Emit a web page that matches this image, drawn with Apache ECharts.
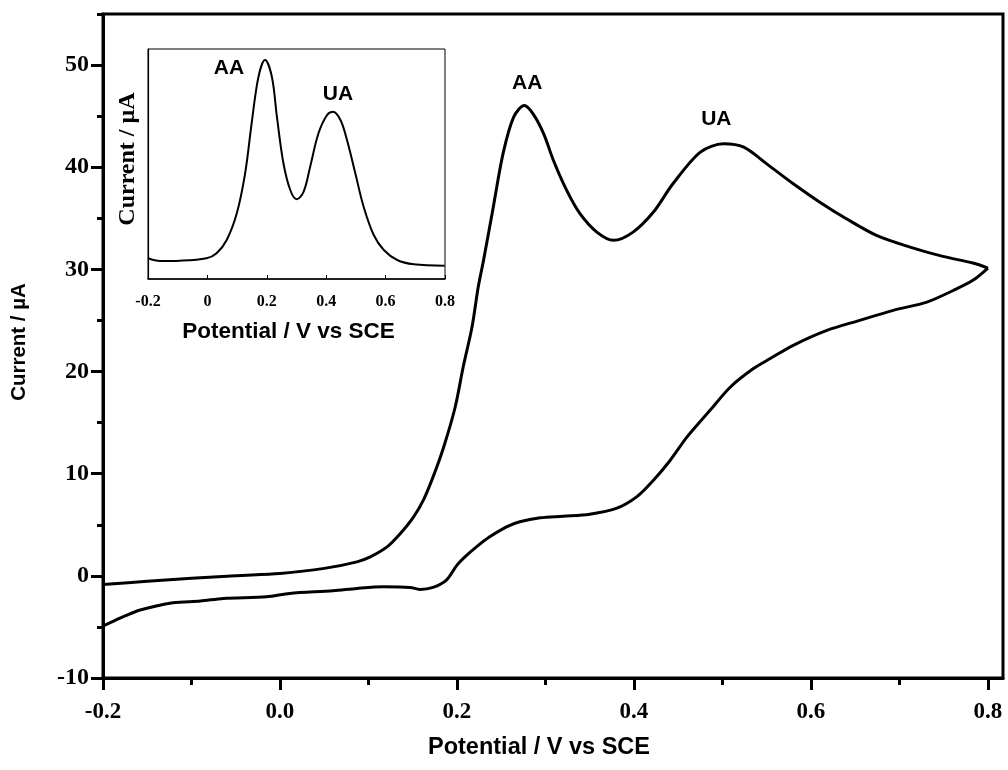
<!DOCTYPE html>
<html>
<head>
<meta charset="utf-8">
<script src="https://cdn.jsdelivr.net/npm/echarts@6/dist/echarts.min.js"></script>
<style>
  html, body { margin: 0; padding: 0; background: #fff; }
  #chart { width: 1008px; height: 770px; }
</style>
</head>
<body>
<div id="chart"></div>
<script>
// Cyclic voltammogram: anodic (forward) scan, potentials in V vs SCE, currents in µA
const fwdPotential = [-0.2, -0.15, -0.1, -0.05, 0.0, 0.05, 0.087, 0.102, 0.121, 0.136, 0.151, 0.162,
  0.173, 0.185, 0.198, 0.207, 0.217, 0.224, 0.230, 0.241, 0.252, 0.264, 0.276, 0.286, 0.298, 0.309,
  0.324, 0.339, 0.358, 0.377, 0.399, 0.422, 0.444, 0.475, 0.501, 0.524, 0.550, 0.580, 0.610, 0.640,
  0.674, 0.712, 0.749, 0.783, 0.800];
const fwdCurrent = [-0.84, -0.54, -0.24, 0.02, 0.24, 0.73, 1.37, 1.86, 2.84, 4.15, 5.78, 7.41,
  9.69, 12.62, 16.53, 20.45, 24.36, 28.27, 30.88, 36.09, 41.31, 44.9, 46.04, 45.23, 43.27, 40.66,
  37.73, 35.45, 33.65, 32.84, 33.65, 35.61, 38.38, 41.48, 42.29, 41.96, 40.33, 38.38, 36.58, 34.96,
  33.33, 32.18, 31.27, 30.62, 30.13];

// Reverse (cathodic) scan back to the starting potential
const revPotential = [0.800, 0.783, 0.761, 0.731, 0.693, 0.655, 0.618, 0.580, 0.554, 0.535, 0.509,
  0.486, 0.460, 0.441, 0.422, 0.403, 0.380, 0.350, 0.320, 0.294, 0.271, 0.256, 0.237, 0.222, 0.209,
  0.200, 0.188, 0.173, 0.158, 0.147, 0.117, 0.087, 0.060, 0.011, -0.015, -0.064, -0.090, -0.121,
  -0.158, -0.177, -0.198, -0.2];
const revCurrent = [30.13, 28.93, 27.95, 26.80, 25.99, 25.01, 24.03, 22.57, 21.27, 20.29, 18.49,
  16.21, 13.60, 11.32, 9.36, 7.73, 6.60, 6.04, 5.84, 5.68, 5.29, 4.80, 3.82, 2.84, 1.86,
  1.05, -0.42, -1.13, -1.33, -1.13, -1.07, -1.23, -1.46, -1.72, -2.05, -2.21, -2.47, -2.64,
  -3.35, -4.0, -4.82, -4.9];

// Differential pulse voltammogram (inset), current in arbitrary units
const dpvPotential = [-0.2, -0.16, -0.093, -0.003, 0.031, 0.065, 0.099, 0.127, 0.149, 0.172, 0.194,
  0.217, 0.234, 0.256, 0.279, 0.301, 0.324, 0.346, 0.374, 0.403, 0.423, 0.448, 0.470, 0.498, 0.526,
  0.560, 0.594, 0.639, 0.695, 0.799];
const dpvCurrent = [2.07, 1.8, 1.83, 2.07, 2.57, 3.9, 6.57, 10.57, 15.57, 20.23, 21.9,
  20.23, 16.23, 11.57, 8.9, 7.97, 8.73, 11.23, 14.57, 16.4, 16.73, 15.9, 13.9, 10.57, 7.23,
  4.4, 2.9, 1.9, 1.47, 1.33];

// Tick positions
const xMajorTicks = [-0.2, 0.0, 0.2, 0.4, 0.6, 0.8];
const xMinorTicks = [-0.1, 0.1, 0.3, 0.5, 0.7];
const yMajorTicks = [-10, 0, 10, 20, 30, 40, 50];
const yMinorTicks = [-5, 5, 15, 25, 35, 45, 55];
const insetTicks = [-0.2, 0, 0.2, 0.4, 0.6, 0.8];

const SERIF = '"Liberation Serif", "Times New Roman", serif';
const SANS = '"Liberation Sans", Arial, sans-serif';

const zip = (xs, ys) => xs.map((x, i) => [x, ys[i]]);

// Peak positions used for the AA / UA annotations
const peakIndex = (xs, ys, lo, hi) => {
  let best = -1;
  xs.forEach((x, i) => { if (x >= lo && x <= hi && (best < 0 || ys[i] > ys[best])) best = i; });
  return best;
};
const cvAA = peakIndex(fwdPotential, fwdCurrent, 0.1, 0.35);
const cvUA = peakIndex(fwdPotential, fwdCurrent, 0.4, 0.7);
const dpvAA = peakIndex(dpvPotential, dpvCurrent, 0.1, 0.3);
const dpvUA = peakIndex(dpvPotential, dpvCurrent, 0.35, 0.6);

const peakLabel = { show: true, position: 'inside', fontFamily: SANS, fontWeight: 'bold', fontSize: 21, color: '#000' };

const chart = echarts.init(document.getElementById('chart'), null, { renderer: 'canvas' });
chart.setOption({
  animation: false,
  backgroundColor: '#fff',
  grid: [
    { left: 103, top: 14, right: 5, bottom: 92, show: true, borderColor: '#000', borderWidth: 3, backgroundColor: '#fff' },
    { left: 148, top: 49, width: 297, height: 230, show: true, borderColor: '#000', borderWidth: 1, backgroundColor: '#fff' }
  ],
  xAxis: [
    {
      type: 'value', gridIndex: 0, position: 'bottom', min: -0.2, max: 0.817,
      axisLine: { show: true, onZero: false, lineStyle: { color: '#000', width: 3 } },
      axisTick: { show: true, customValues: xMajorTicks, length: 12, lineStyle: { color: '#000', width: 3 } },
      axisLabel: { customValues: xMajorTicks, formatter: v => v.toFixed(1), fontFamily: SERIF, fontWeight: 'bold', fontSize: 23, color: '#000', margin: 23 },
      splitLine: { show: false },
      name: 'Potential / V vs SCE', nameLocation: 'middle', nameGap: 58,
      nameTextStyle: { fontFamily: SANS, fontWeight: 'bold', fontSize: 23.5, color: '#000', padding: [0, 28, 0, 0] }
    },
    {
      type: 'value', gridIndex: 0, position: 'bottom', min: -0.2, max: 0.817,
      axisLine: { show: false, onZero: false },
      axisTick: { show: true, customValues: xMinorTicks, length: 7, lineStyle: { color: '#000', width: 3 } },
      axisLabel: { show: false },
      splitLine: { show: false }
    },
    {
      type: 'value', gridIndex: 1, position: 'bottom', min: -0.2, max: 0.8, interval: 0.2,
      axisLine: { show: true, onZero: false, lineStyle: { color: '#000', width: 1.5 } },
      axisTick: { show: true, inside: true, customValues: insetTicks, length: 4, lineStyle: { color: '#000', width: 1 } },
      axisLabel: { customValues: insetTicks, formatter: v => Math.abs(v) < 1e-9 ? '0' : v.toFixed(1), fontFamily: SERIF, fontWeight: 'bold', fontSize: 16, color: '#000', margin: 15 },
      splitLine: { show: false },
      name: 'Potential / V vs SCE', nameLocation: 'middle', nameGap: 41,
      nameTextStyle: { fontFamily: SANS, fontWeight: 'bold', fontSize: 22.5, color: '#000', padding: [0, 16, 0, 0] }
    }
  ],
  yAxis: [
    {
      type: 'value', gridIndex: 0, min: -10, max: 55, position: 'left',
      axisLine: { show: true, onZero: false, lineStyle: { color: '#000', width: 3 } },
      axisTick: { show: true, customValues: yMajorTicks, length: 12, lineStyle: { color: '#000', width: 3 } },
      axisLabel: { customValues: yMajorTicks, formatter: v => String(v), fontFamily: SERIF, fontWeight: 'bold', fontSize: 24, color: '#000', margin: 14 },
      splitLine: { show: false },
      name: 'Current / µA', nameLocation: 'middle', nameGap: 73, nameRotate: 90,
      nameTextStyle: { fontFamily: SANS, fontWeight: 'bold', fontSize: 20.5, color: '#000', padding: [0, 0, 0, 8] }
    },
    {
      type: 'value', gridIndex: 0, min: -10, max: 55, position: 'left',
      axisLine: { show: false, onZero: false },
      axisTick: { show: true, customValues: yMinorTicks, length: 6, lineStyle: { color: '#000', width: 3 } },
      axisLabel: { show: false },
      splitLine: { show: false }
    },
    {
      type: 'value', gridIndex: 1, min: 0, max: 23, position: 'left',
      axisLine: { show: true, onZero: false, lineStyle: { color: '#000', width: 1.2 } },
      axisTick: { show: false },
      axisLabel: { show: false },
      splitLine: { show: false },
      name: 'Current / µA', nameLocation: 'middle', nameGap: 8, nameRotate: 90,
      nameTextStyle: { fontFamily: SERIF, fontWeight: 'bold', fontSize: 24, color: '#000', padding: [0, 0, 0, 10] }
    }
  ],
  series: [
    {
      name: 'forward', type: 'line', xAxisIndex: 0, yAxisIndex: 0,
      data: zip(fwdPotential, fwdCurrent), symbol: 'none', smooth: 0.3,
      lineStyle: { color: '#000', width: 3 },
      markPoint: {
        symbol: 'circle', symbolSize: 0, silent: true,
        label: peakLabel,
        data: [
          { coord: [fwdPotential[cvAA], fwdCurrent[cvAA]], label: { formatter: 'AA', offset: [3, -22] } },
          { coord: [fwdPotential[cvUA], fwdCurrent[cvUA]], label: { formatter: 'UA', offset: [-7, -25] } }
        ]
      }
    },
    {
      name: 'reverse', type: 'line', xAxisIndex: 0, yAxisIndex: 0,
      data: zip(revPotential, revCurrent), symbol: 'none', smooth: 0.3,
      lineStyle: { color: '#000', width: 3 }
    },
    {
      name: 'dpv', type: 'line', xAxisIndex: 2, yAxisIndex: 2,
      data: zip(dpvPotential, dpvCurrent), symbol: 'none', smooth: 0.35,
      lineStyle: { color: '#000', width: 2 },
      markPoint: {
        symbol: 'circle', symbolSize: 0, silent: true,
        label: peakLabel,
        data: [
          { coord: [dpvPotential[dpvAA], dpvCurrent[dpvAA]], label: { formatter: 'AA', offset: [-36, 8] } },
          { coord: [dpvPotential[dpvUA], dpvCurrent[dpvUA]], label: { formatter: 'UA', offset: [5, -17] } }
        ]
      }
    }
  ]
});
</script>
</body>
</html>
